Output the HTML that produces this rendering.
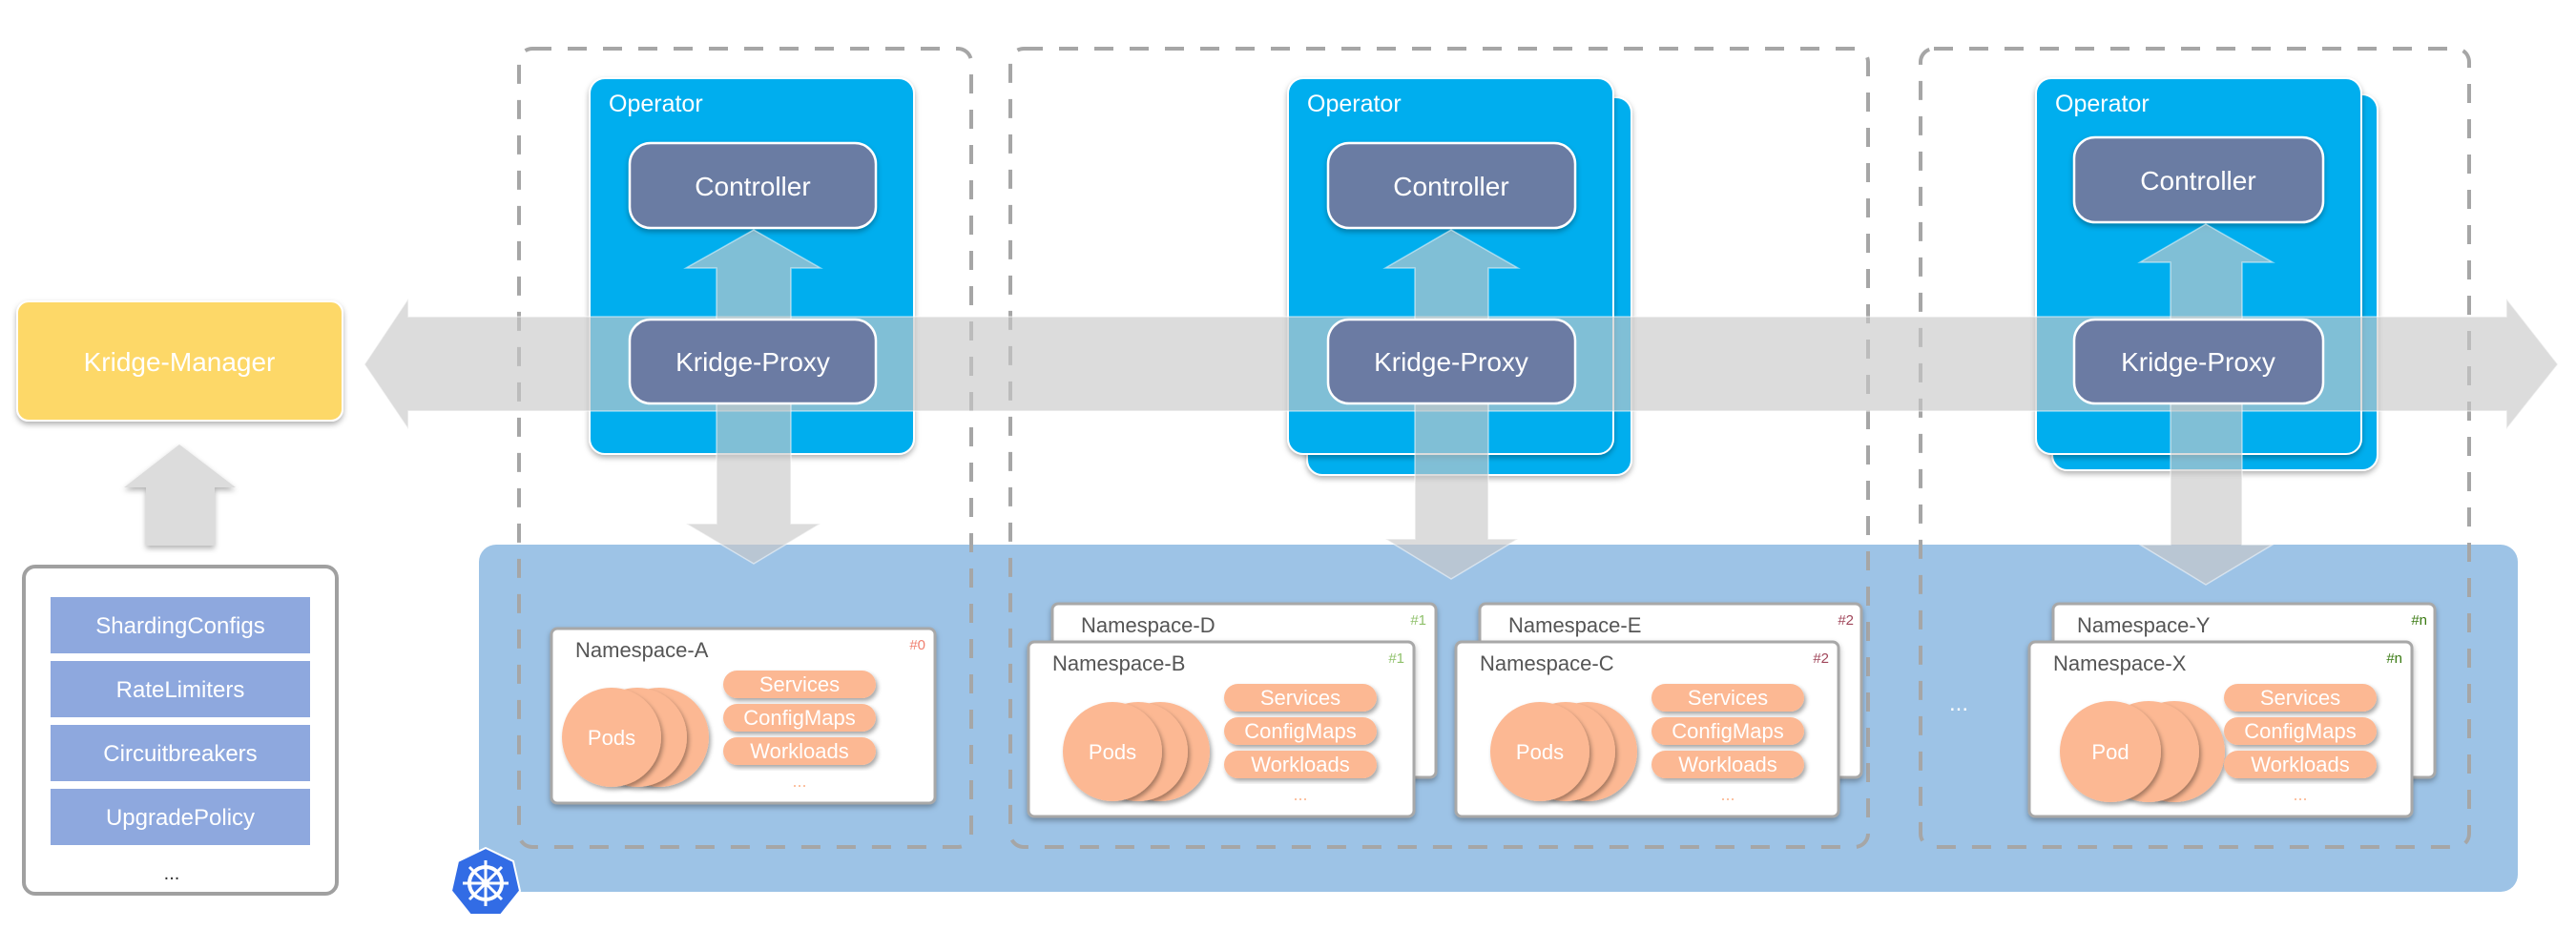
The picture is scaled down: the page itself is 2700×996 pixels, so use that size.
<!DOCTYPE html>
<html><head><meta charset="utf-8"><style>
html,body{margin:0;padding:0;background:#fff;}
svg{display:block;}
text{font-family:"Liberation Sans",sans-serif;}
</style></head><body>
<svg width="2700" height="996" viewBox="0 0 2700 996" xmlns="http://www.w3.org/2000/svg">
<defs>
<filter id="sh" x="-10%" y="-10%" width="120%" height="130%"><feDropShadow dx="0" dy="3" stdDeviation="3" flood-color="#000" flood-opacity="0.3"/></filter>
<filter id="sh2" x="-10%" y="-10%" width="130%" height="130%"><feDropShadow dx="2" dy="3" stdDeviation="2.5" flood-color="#000" flood-opacity="0.35"/></filter>
<g id="circ">
  <circle cx="50" cy="0" r="52" fill="#fcb893" filter="url(#sh2)"/>
  <circle cx="27" cy="0" r="52" fill="#fcb893" filter="url(#sh2)"/>
  <circle cx="0" cy="0" r="52" fill="#fcb893" filter="url(#sh2)"/>
  <text x="0" y="8" font-size="22" fill="#fff" text-anchor="middle">Pods</text>
</g>
<g id="pills">
  <rect x="0" y="44" width="160" height="29" rx="14.5" fill="#fcb893" filter="url(#sh2)"/>
  <rect x="0" y="79" width="160" height="29" rx="14.5" fill="#fcb893" filter="url(#sh2)"/>
  <rect x="0" y="114" width="160" height="29" rx="14.5" fill="#fcb893" filter="url(#sh2)"/>
  <text x="80" y="66" font-size="22" fill="#fff" text-anchor="middle">Services</text>
  <text x="80" y="101" font-size="22" fill="#fff" text-anchor="middle">ConfigMaps</text>
  <text x="80" y="136" font-size="22" fill="#fff" text-anchor="middle">Workloads</text>
  <text x="80" y="166" font-size="18" fill="#fcb893" text-anchor="middle">...</text>
</g>
</defs>

<rect x="502" y="571" width="2137" height="364" rx="18" fill="#9dc3e6"/>

<rect x="544" y="51" width="474" height="837" rx="14" fill="none" stroke="#a6a6a6" stroke-width="4" stroke-dasharray="20 17"/>
<rect x="1059" y="51" width="899" height="837" rx="14" fill="none" stroke="#a6a6a6" stroke-width="4" stroke-dasharray="20 17"/>
<rect x="2013" y="51" width="575" height="837" rx="14" fill="none" stroke="#a6a6a6" stroke-width="4" stroke-dasharray="20 17"/>

<rect x="618" y="82" width="340" height="394" rx="16" fill="#04aeee" stroke="#fff" stroke-width="2" filter="url(#sh)"/>
<rect x="1370" y="102" width="340" height="396" rx="16" fill="#04aeee" stroke="#fff" stroke-width="2" filter="url(#sh)"/>
<rect x="1350" y="82" width="341" height="394" rx="16" fill="#04aeee" stroke="#fff" stroke-width="2" filter="url(#sh)"/>
<rect x="2151" y="99" width="341" height="394" rx="16" fill="#04aeee" stroke="#fff" stroke-width="2" filter="url(#sh)"/>
<rect x="2134" y="82" width="341" height="394" rx="16" fill="#04aeee" stroke="#fff" stroke-width="2" filter="url(#sh)"/>
<text x="638" y="117" font-size="25" fill="#fff">Operator</text>
<text x="1370" y="117" font-size="25" fill="#fff">Operator</text>
<text x="2154" y="117" font-size="25" fill="#fff">Operator</text>

<rect x="660" y="150" width="258" height="89" rx="22" fill="#6b7ba3" stroke="#fff" stroke-width="2.5" filter="url(#sh)"/>
<rect x="1392" y="150" width="259" height="89" rx="22" fill="#6b7ba3" stroke="#fff" stroke-width="2.5" filter="url(#sh)"/>
<rect x="2174" y="144" width="261" height="89" rx="22" fill="#6b7ba3" stroke="#fff" stroke-width="2.5" filter="url(#sh)"/>
<text x="789" y="205" font-size="28" fill="#fff" text-anchor="middle">Controller</text>
<text x="1521" y="205" font-size="28" fill="#fff" text-anchor="middle">Controller</text>
<text x="2304" y="199" font-size="28" fill="#fff" text-anchor="middle">Controller</text>

<polygon points="382,382 428,313 428,332 2627,332 2627,313 2681,382 2627,450 2627,431 428,431 428,450" fill="rgba(200,200,200,0.64)" stroke="rgba(255,255,255,0.5)" stroke-width="1.5"/>

<polygon points="790,241 860,281 829,281 829,549 860,549 790,591 719,549 751,549 751,281 719,281" fill="rgba(200,200,200,0.64)" stroke="rgba(255,255,255,0.5)" stroke-width="1.5"/>
<polygon points="1521,241 1591,281 1560,281 1560,565 1591,565 1521,607 1452,565 1483,565 1483,281 1452,281" fill="rgba(200,200,200,0.64)" stroke="rgba(255,255,255,0.5)" stroke-width="1.5"/>
<polygon points="2312,235 2382,275 2350,275 2350,571 2382,571 2312,613 2243,571 2275,571 2275,275 2243,275" fill="rgba(200,200,200,0.64)" stroke="rgba(255,255,255,0.5)" stroke-width="1.5"/>

<rect x="660" y="335" width="258" height="88" rx="22" fill="#6b7ba3" stroke="#fff" stroke-width="2.5"/>
<rect x="1392" y="335" width="259" height="88" rx="22" fill="#6b7ba3" stroke="#fff" stroke-width="2.5"/>
<rect x="2174" y="335" width="261" height="88" rx="22" fill="#6b7ba3" stroke="#fff" stroke-width="2.5"/>
<text x="789" y="389" font-size="28" fill="#fff" text-anchor="middle">Kridge-Proxy</text>
<text x="1521" y="389" font-size="28" fill="#fff" text-anchor="middle">Kridge-Proxy</text>
<text x="2304" y="389" font-size="28" fill="#fff" text-anchor="middle">Kridge-Proxy</text>

<rect x="18" y="316" width="341" height="125" rx="12" fill="#fdd868" stroke="#fff" stroke-width="2" filter="url(#sh)"/>
<text x="188" y="389" font-size="28" fill="#fff" text-anchor="middle">Kridge-Manager</text>
<polygon points="188,466 247,511 225,511 225,572 153,572 153,511 130,511" fill="#dcdcdc" filter="url(#sh)"/>

<rect x="25" y="594" width="328" height="343" rx="12" fill="#fff" stroke="#a0a0a0" stroke-width="4"/>
<rect x="53" y="626" width="272" height="59" fill="#8ea8de"/>
<rect x="53" y="693" width="272" height="59" fill="#8ea8de"/>
<rect x="53" y="760" width="272" height="59" fill="#8ea8de"/>
<rect x="53" y="827" width="272" height="59" fill="#8ea8de"/>
<text x="189" y="664" font-size="24" fill="#fff" text-anchor="middle">ShardingConfigs</text>
<text x="189" y="731" font-size="24" fill="#fff" text-anchor="middle">RateLimiters</text>
<text x="189" y="798" font-size="24" fill="#fff" text-anchor="middle">Circuitbreakers</text>
<text x="189" y="865" font-size="24" fill="#fff" text-anchor="middle">UpgradePolicy</text>
<text x="180" y="922" font-size="20" fill="#333" text-anchor="middle">...</text>

<g transform="translate(509,926)">
<polygon points="0,-37 29,-23 36,8 16,33 -16,33 -36,8 -29,-23" fill="#326ce5" stroke="#fff" stroke-width="2"/>
<circle r="17" fill="none" stroke="#fff" stroke-width="4"/>
<circle r="4" fill="#fff"/>
<g stroke="#fff" stroke-width="3">
<line x1="0" y1="-24" x2="0" y2="24"/><line x1="-24" y1="0" x2="24" y2="0"/>
<line x1="-17" y1="-17" x2="17" y2="17"/><line x1="17" y1="-17" x2="-17" y2="17"/>
</g></g>

<!-- Namespace A -->
<g transform="translate(578,659)">
<rect width="402" height="183" rx="6" fill="#fff" stroke="#a8a8a8" stroke-width="3" filter="url(#sh)"/>
<text x="25" y="30" font-size="22" fill="#555">Namespace-A</text>
<text x="392" y="22" font-size="15" fill="#f08070" text-anchor="end">#0</text>
<use href="#circ" transform="translate(63,114)"/>
<use href="#pills" transform="translate(180,0)"/>
</g>

<g transform="translate(1103,633)">
<rect width="402" height="182" rx="6" fill="#fff" stroke="#a8a8a8" stroke-width="3" filter="url(#sh)"/>
<text x="30" y="30" font-size="22" fill="#555">Namespace-D</text>
<text x="392" y="22" font-size="15" fill="#8fc16b" text-anchor="end">#1</text>
</g>
<g transform="translate(1078,673)">
<rect width="404" height="183" rx="6" fill="#fff" stroke="#a8a8a8" stroke-width="3" filter="url(#sh)"/>
<text x="25" y="30" font-size="22" fill="#555">Namespace-B</text>
<text x="394" y="22" font-size="15" fill="#8fc16b" text-anchor="end">#1</text>
<use href="#circ" transform="translate(88,115)"/>
<use href="#pills" transform="translate(205,0)"/>
</g>

<g transform="translate(1551,633)">
<rect width="400" height="182" rx="6" fill="#fff" stroke="#a8a8a8" stroke-width="3" filter="url(#sh)"/>
<text x="30" y="30" font-size="22" fill="#555">Namespace-E</text>
<text x="392" y="22" font-size="15" fill="#a0465a" text-anchor="end">#2</text>
</g>
<g transform="translate(1526,673)">
<rect width="401" height="183" rx="6" fill="#fff" stroke="#a8a8a8" stroke-width="3" filter="url(#sh)"/>
<text x="25" y="30" font-size="22" fill="#555">Namespace-C</text>
<text x="391" y="22" font-size="15" fill="#a0465a" text-anchor="end">#2</text>
<use href="#circ" transform="translate(88,115)"/>
<use href="#pills" transform="translate(205,0)"/>
</g>

<text x="2053" y="745" font-size="24" fill="#fff" text-anchor="middle">...</text>

<g transform="translate(2152,633)">
<rect width="400" height="182" rx="6" fill="#fff" stroke="#a8a8a8" stroke-width="3" filter="url(#sh)"/>
<text x="25" y="30" font-size="22" fill="#555">Namespace-Y</text>
<text x="392" y="22" font-size="15" fill="#3a7a12" text-anchor="end">#n</text>
</g>
<g transform="translate(2127,673)">
<rect width="401" height="183" rx="6" fill="#fff" stroke="#a8a8a8" stroke-width="3" filter="url(#sh)"/>
<text x="25" y="30" font-size="22" fill="#555">Namespace-X</text>
<text x="391" y="22" font-size="15" fill="#3a7a12" text-anchor="end">#n</text>
<circle cx="152" cy="115" r="53" fill="#fcb893" filter="url(#sh2)"/>
<circle cx="125" cy="115" r="53" fill="#fcb893" filter="url(#sh2)"/>
<circle cx="85" cy="115" r="53" fill="#fcb893" filter="url(#sh2)"/>
<text x="85" y="123" font-size="22" fill="#fff" text-anchor="middle">Pod</text>
<use href="#pills" transform="translate(204,0)"/>
</g>
</svg>
</body></html>
